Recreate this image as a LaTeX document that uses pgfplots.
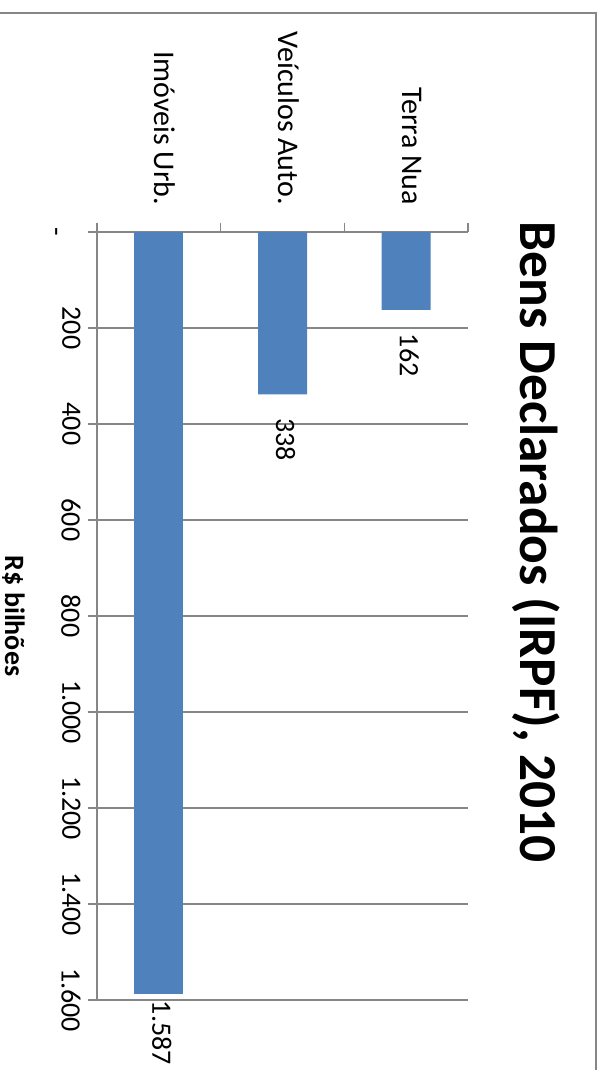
\documentclass[border=0pt]{standalone}
\usepackage{pgfplots}
\pgfplotsset{compat=1.18}
\usepackage{fontspec}
\setmainfont{Carlito}
\definecolor{barblue}{HTML}{4F81BD}
\definecolor{gridgray}{HTML}{868686}
\begin{document}
\begin{tikzpicture}
\useasboundingbox (0,0) rectangle (301pt,-535pt);
\draw[gridgray, line width=1pt] (0,-6.5pt) -- (298pt,-6.5pt) -- (298pt,-536pt);
\begin{axis}[
  at={(48.5pt,-116pt)}, anchor=north west,
  scale only axis, width=185.5pt, height=384pt,
  xmin=-0.5, xmax=2.5, ymin=0, ymax=1600,
  y dir=reverse,
  ybar, bar width=24.5pt,
  axis x line*=top, axis y line*=left,
  axis line style={gridgray, line width=0.7pt},
  every tick/.style={gridgray, line width=0.7pt},
  tick align=outside, major tick length=4.75pt,
  ymajorgrids, grid style={gridgray, line width=0.7pt},
  ytick={0,200,...,1600},
  yticklabels={\vphantom{0}\smash{\raisebox{-7pt}{-}}\hspace{10pt},200,400,600,800,1.000,1.200,1.400,1.600},
  yticklabel style={rotate=-90, anchor=north, font=\fontsize{14}{16}\selectfont},
  xtick={-0.5,0.5,1.5,2.5}, xticklabels={},
  extra x ticks={0,1,2},
  extra x tick labels={Imóveis Urb., Veículos Auto., Terra Nua},
  extra x tick style={major tick length=0pt, grid=none, xticklabel style={rotate=-90, anchor=east, xshift=-10pt, yshift=3pt, font=\fontsize{15}{17}\selectfont}},
  point meta=explicit symbolic,
  nodes near coords,
  every node near coord/.append style={rotate=-90, anchor=west, yshift=1.5pt, font=\fontsize{14}{16}\selectfont, text=black},
]
\addplot[fill=barblue, draw=none, bar shift=0pt] coordinates {(0,1587) [1.587]};
\addplot[fill=barblue, draw=none, bar shift=0pt,
  every node near coord/.append style={xshift=8.5pt}] coordinates {(1,338) [338] (2,162) [162]};
\end{axis}
\node[rotate=-90, anchor=base, font=\fontsize{26.7}{30}\selectfont\bfseries] at (260pt,-271pt) {Bens Declarados (IRPF), 2010};
\node[rotate=-90, anchor=base, font=\fontsize{14}{16}\selectfont\bfseries] at (2.5pt,-308pt) {R\$ bilhões};
\end{tikzpicture}
\end{document}
